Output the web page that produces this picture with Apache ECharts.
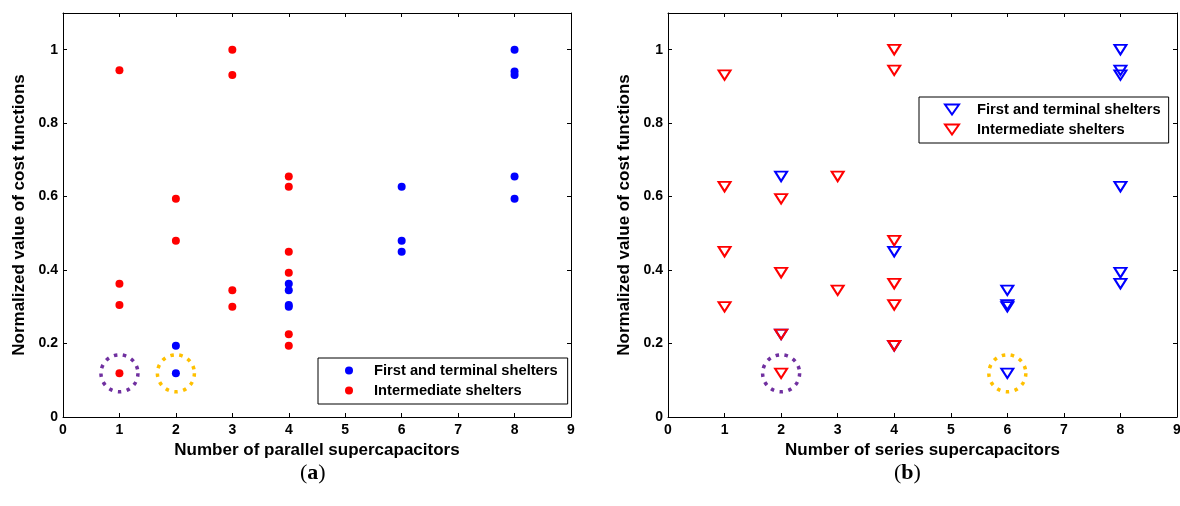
<!DOCTYPE html>
<html>
<head>
<meta charset="utf-8">
<script src="https://cdn.jsdelivr.net/npm/echarts@6.0.0/dist/echarts.min.js"></script>
<style>
    html, body { margin: 0; padding: 0; background: #fff; }
    #wrap { position: relative; width: 1180px; height: 506px; }
    #chartA { position: absolute; left: 0; top: 0; width: 590px; height: 506px; }
    #chartB { position: absolute; left: 590px; top: 0; width: 590px; height: 506px; }
</style>
</head>
<body>
<div id="wrap">
    <div id="chartA"></div>
    <div id="chartB"></div>
</div>
<script>
// (a) parallel supercapacitors, [count, normalized cost]
var parallelFirst = [
    [2, 0.194], [2, 0.119], [4, 0.363], [4, 0.345], [4, 0.305], [4, 0.300],
    [6, 0.627], [6, 0.480], [6, 0.450],
    [8, 1.000], [8, 0.941], [8, 0.931], [8, 0.655], [8, 0.594]
];
var parallelInter = [
    [1, 0.944], [1, 0.363], [1, 0.305], [1, 0.119],
    [2, 0.594], [2, 0.480],
    [3, 1.000], [3, 0.931], [3, 0.345], [3, 0.300],
    [4, 0.655], [4, 0.627], [4, 0.450], [4, 0.393], [4, 0.225], [4, 0.194]
];
// (b) series supercapacitors
var seriesFirst = [
    [2, 0.655], [2, 0.225], [4, 0.450], [4, 0.194],
    [6, 0.345], [6, 0.305], [6, 0.300], [6, 0.119],
    [8, 1.000], [8, 0.944], [8, 0.931], [8, 0.627], [8, 0.393], [8, 0.363]
];
var seriesInter = [
    [1, 0.931], [1, 0.627], [1, 0.450], [1, 0.300],
    [2, 0.594], [2, 0.393], [2, 0.225], [2, 0.119],
    [3, 0.655], [3, 0.345],
    [4, 1.000], [4, 0.944], [4, 0.480], [4, 0.363], [4, 0.305], [4, 0.194]
];
// highlighted solutions (dotted rings)
var parallelPurple = [[1, 0.119]];
var parallelOrange = [[2, 0.119]];
var seriesPurple = [[2, 0.119]];
var seriesOrange = [[6, 0.119]];

var xMin = 0, xMax = 9, xStep = 1;
var yMin = 0, yMax = 1.1, yStep = 0.2;
var nameFirst = 'First and terminal shelters';
var nameInter = 'Intermediate shelters';

var FONT = '"Liberation Sans", Arial, Helvetica, sans-serif';
var SERIF = '"Liberation Serif", "Times New Roman", serif';
var TRI = 'path://M0,0L14,0L7,10Z';

var makeAxis = function(type, pos, showLabel, name) {
    var ax = {
        type: 'value',
        position: pos,
        min: type == 'x' ? xMin : yMin,
        max: type == 'x' ? xMax : yMax,
        interval: type == 'x' ? xStep : yStep,
        splitLine: { show: false },
        axisLine: { show: true, onZero: false, lineStyle: { color: '#000', width: 1 } },
        axisTick: { show: true, inside: true, length: 4, lineStyle: { color: '#000' } },
        axisLabel: {
            show: showLabel,
            color: '#000',
            fontFamily: FONT,
            fontWeight: 'bold',
            fontSize: 14,
            margin: type == 'x' ? 6 : 5,
            showMaxLabel: type == 'x',
            formatter: function(v) { return v > 1.05 && type == 'y' ? '' : String(+v.toFixed(1)); }
        }
    };
    if (name) {
        ax.name = name;
        ax.nameLocation = 'middle';
        ax.nameGap = type == 'x' ? 22 : 31;
        ax.nameTextStyle = { color: '#000', fontFamily: FONT, fontWeight: 'bold', fontSize: 17 };
    }
    return ax;
};

var ring = function(name, data, color) {
    return {
        name: name,
        type: 'scatter',
        data: data,
        silent: true,
        symbol: 'circle',
        symbolSize: 37,
        z: 1,
        itemStyle: { color: 'transparent', opacity: 1, borderColor: color, borderWidth: 3.5, borderType: [3.5, 5.5] }
    };
};

var markStyle = function(color, hollow) {
    if (hollow) return { color: 'transparent', opacity: 1, borderColor: color, borderWidth: 2 };
    return { color: color, opacity: 1 };
};

var buildOption = function(opts) {
    return {
        animation: false,
        grid: { left: opts.gridLeft, top: 13, width: opts.gridWidth, height: 404, outerBoundsMode: 'none' },
        xAxis: [makeAxis('x', 'bottom', true, opts.xName), makeAxis('x', 'top', false)],
        yAxis: [makeAxis('y', 'left', true, 'Normalized value of cost functions'), makeAxis('y', 'right', false)],
        legend: {
            data: [nameFirst, nameInter],
            orient: 'vertical',
            left: opts.legendLeft,
            top: opts.legendTop,
            backgroundColor: '#fff',
            borderColor: '#000',
            borderWidth: 1,
            borderRadius: 0,
            padding: opts.legendPad,
            itemWidth: 40,
            itemHeight: opts.iconH,
            itemGap: 5,
            selectedMode: false,
            textStyle: { color: '#000', fontFamily: FONT, fontWeight: 'bold', fontSize: 14.7 }
        },
        graphic: [{
            type: 'text',
            left: opts.capX,
            top: 462,
            style: {
                text: '{p|(}{b|' + opts.cap + '}{p|)}',
                rich: {
                    p: { fontFamily: SERIF, fontSize: 22, fill: '#000' },
                    b: { fontFamily: SERIF, fontSize: 22, fontWeight: 'bold', fill: '#000' }
                }
            }
        }],
        series: [
            ring('purpleRing', opts.purple, '#7030A0'),
            ring('orangeRing', opts.orange, '#FFC000'),
            {
                name: nameFirst,
                type: 'scatter',
                data: opts.first,
                symbol: opts.symbol,
                symbolSize: opts.size,
                z: 2,
                itemStyle: markStyle('#0000FF', opts.hollow)
            },
            {
                name: nameInter,
                type: 'scatter',
                data: opts.inter,
                symbol: opts.symbol,
                symbolSize: opts.size,
                z: 3,
                itemStyle: markStyle('#FF0000', opts.hollow)
            }
        ]
    };
};

var chartA = echarts.init(document.getElementById('chartA'), null, { renderer: 'canvas' });
chartA.setOption(buildOption({
    gridLeft: 63, gridWidth: 508,
    xName: 'Number of parallel supercapacitors',
    legendLeft: 318, legendTop: 358, legendPad: [5, 10, 6, 27], iconH: 8,
    capX: 300, cap: 'a',
    purple: parallelPurple, orange: parallelOrange,
    first: parallelFirst, inter: parallelInter,
    symbol: 'circle', size: 8, hollow: false
}));

var chartB = echarts.init(document.getElementById('chartB'), null, { renderer: 'canvas' });
chartB.setOption(buildOption({
    gridLeft: 78, gridWidth: 509,
    xName: 'Number of series supercapacitors',
    legendLeft: 329, legendTop: 97, legendPad: [5, 8, 6, 25], iconH: 10,
    capX: 304, cap: 'b',
    purple: seriesPurple, orange: seriesOrange,
    first: seriesFirst, inter: seriesInter,
    symbol: TRI, size: [12, 9.5], hollow: true
}));
</script>
</body>
</html>
